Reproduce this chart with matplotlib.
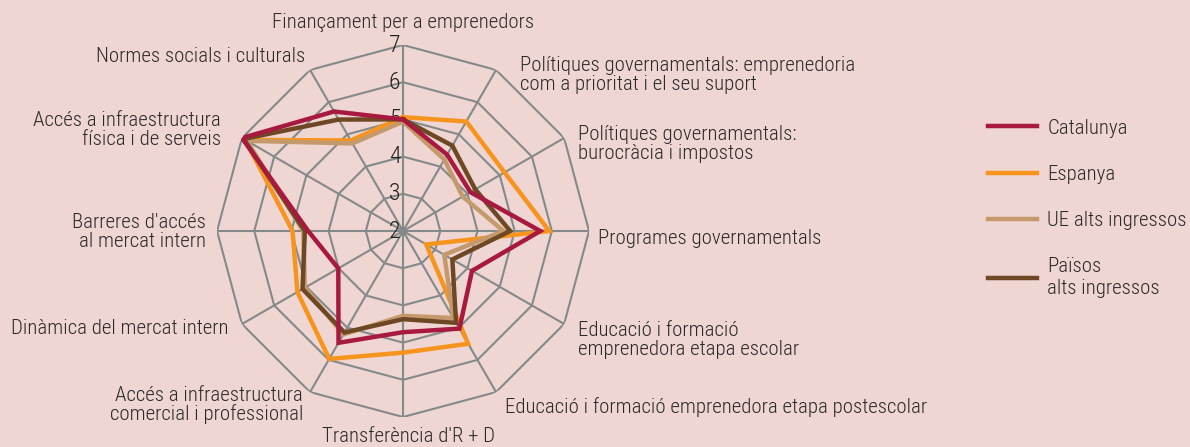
import matplotlib
matplotlib.use("Agg")
import matplotlib.pyplot as plt
import numpy as np

plt.rcParams['font.family'] = ['Roboto Condensed', 'DejaVu Sans']
plt.rcParams['font.weight'] = 'light'

categories = [
    "Finançament per a emprenedors",
    "Polítiques governamentals: emprenedoria\ncom a prioritat i el seu suport",
    "Polítiques governamentals:\nburocràcia i impostos",
    "Programes governamentals",
    "Educació i formació\nemprenedora etapa escolar",
    "Educació i formació emprenedora etapa postescolar",
    "Transferència d'R + D",
    "Accés a infraestructura\ncomercial i professional",
    "Dinàmica del mercat intern",
    "Barreres d'accés\nal mercat intern",
    "Accés a infraestructura\nfísica i de serveis",
    "Normes socials i culturals",
]

catalunya = [5.0, 4.37, 4.09, 5.69, 4.14, 5.03, 4.72, 5.47, 4.01, 4.55, 7.0, 5.71]
espanya = [5.06, 5.40, 5.15, 5.93, 2.72, 5.50, 5.27, 5.97, 5.28, 4.97, 6.9, 4.81]
ue_alts = [4.94, 4.22, 3.85, 4.70, 3.28, 4.70, 4.28, 5.21, 5.05, 4.68, 6.85, 4.72]
paisos_alts = [5.0, 4.65, 4.24, 4.88, 3.53, 4.85, 4.37, 5.15, 5.12, 4.64, 6.95, 5.46]

series_names = ["Catalunya", "Espanya", "UE alts ingressos", "Països\nalts ingressos"]
levels = [2, 3, 4, 5, 6, 7]

bg = "#efd6d2"
grid_col = "#838a89"
colors = {"Catalunya": "#a8193f", "Espanya": "#f7941d",
          "UE alts ingressos": "#c49a6c", "Països\nalts ingressos": "#6e4724"}

n = len(categories)
theta = np.arange(n) * 2 * np.pi / n
theta_closed = np.append(theta, theta[0])

fig = plt.figure(figsize=(11.9, 4.47), dpi=100, facecolor=bg)
ax = fig.add_axes([0.1824, 0.0671, 0.3126, 0.8322], projection='polar')
ax.patch.set_alpha(0)
ax.set_theta_zero_location('N')
ax.set_theta_direction(-1)
ax.set_ylim(2, 7)
ax.grid(False)
ax.spines['polar'].set_visible(False)
ax.set_xticks([])
ax.set_yticks([])

# polygon grid + spokes
for lv in levels[1:]:
    ax.plot(theta_closed, [lv] * (n + 1), color=grid_col, lw=1.5, zorder=1)
for t in theta:
    ax.plot([t, t], [2, 7], color=grid_col, lw=1.5, zorder=1)
ax.plot([0], [2], 'o', color=grid_col, ms=5, zorder=1)

# radial tick labels just left of the vertical spoke (under the series lines)
for lv in levels:
    ax.annotate(str(lv), xy=(0, lv), xytext=(-2, 0), textcoords='offset points',
                ha='right', va='center', fontsize=17, color='#222222', zorder=2)

data = {"Catalunya": catalunya, "Espanya": espanya,
        "UE alts ingressos": ue_alts, "Països\nalts ingressos": paisos_alts}
lines = {}
for name in ["Espanya", "UE alts ingressos", "Països\nalts ingressos", "Catalunya"]:
    vals = data[name]
    ln, = ax.plot(theta_closed, vals + vals[:1], color=colors[name], lw=3.2,
                  solid_joinstyle='miter', zorder=3)
    lines[name] = ln

# category labels (figure pixel positions)
W, H = 1190, 447
label_pos = [
    (403, 22, 'center'),
    (520, 75, 'left'),
    (578, 144, 'left'),
    (598, 238, 'left'),
    (578, 340, 'left'),
    (505, 407, 'left'),
    (408, 436, 'center'),
    (303, 405, 'right'),
    (228, 329, 'right'),
    (206, 232, 'right'),
    (221, 130, 'right'),
    (305, 57, 'right'),
]
for lab, (x, y, ha) in zip(categories, label_pos):
    fig.text(x / W, 1 - y / H, lab, ha=ha, va='center', fontsize=15,
             color='#2a2a2a', linespacing=1.0, multialignment=ha)

handles = [lines[s] for s in series_names]
leg = fig.legend(handles, series_names, loc='upper left',
                 bbox_to_anchor=(969 / W, 1 - 100 / H), frameon=False,
                 fontsize=15, handlelength=2.36, handletextpad=0.5,
                 labelspacing=1.3)
for h in leg.legend_handles:
    h.set_linewidth(3.2)
for t in leg.get_texts():
    t.set_color('#2a2a2a')

fig.savefig("out.png", dpi=100, facecolor=bg)
